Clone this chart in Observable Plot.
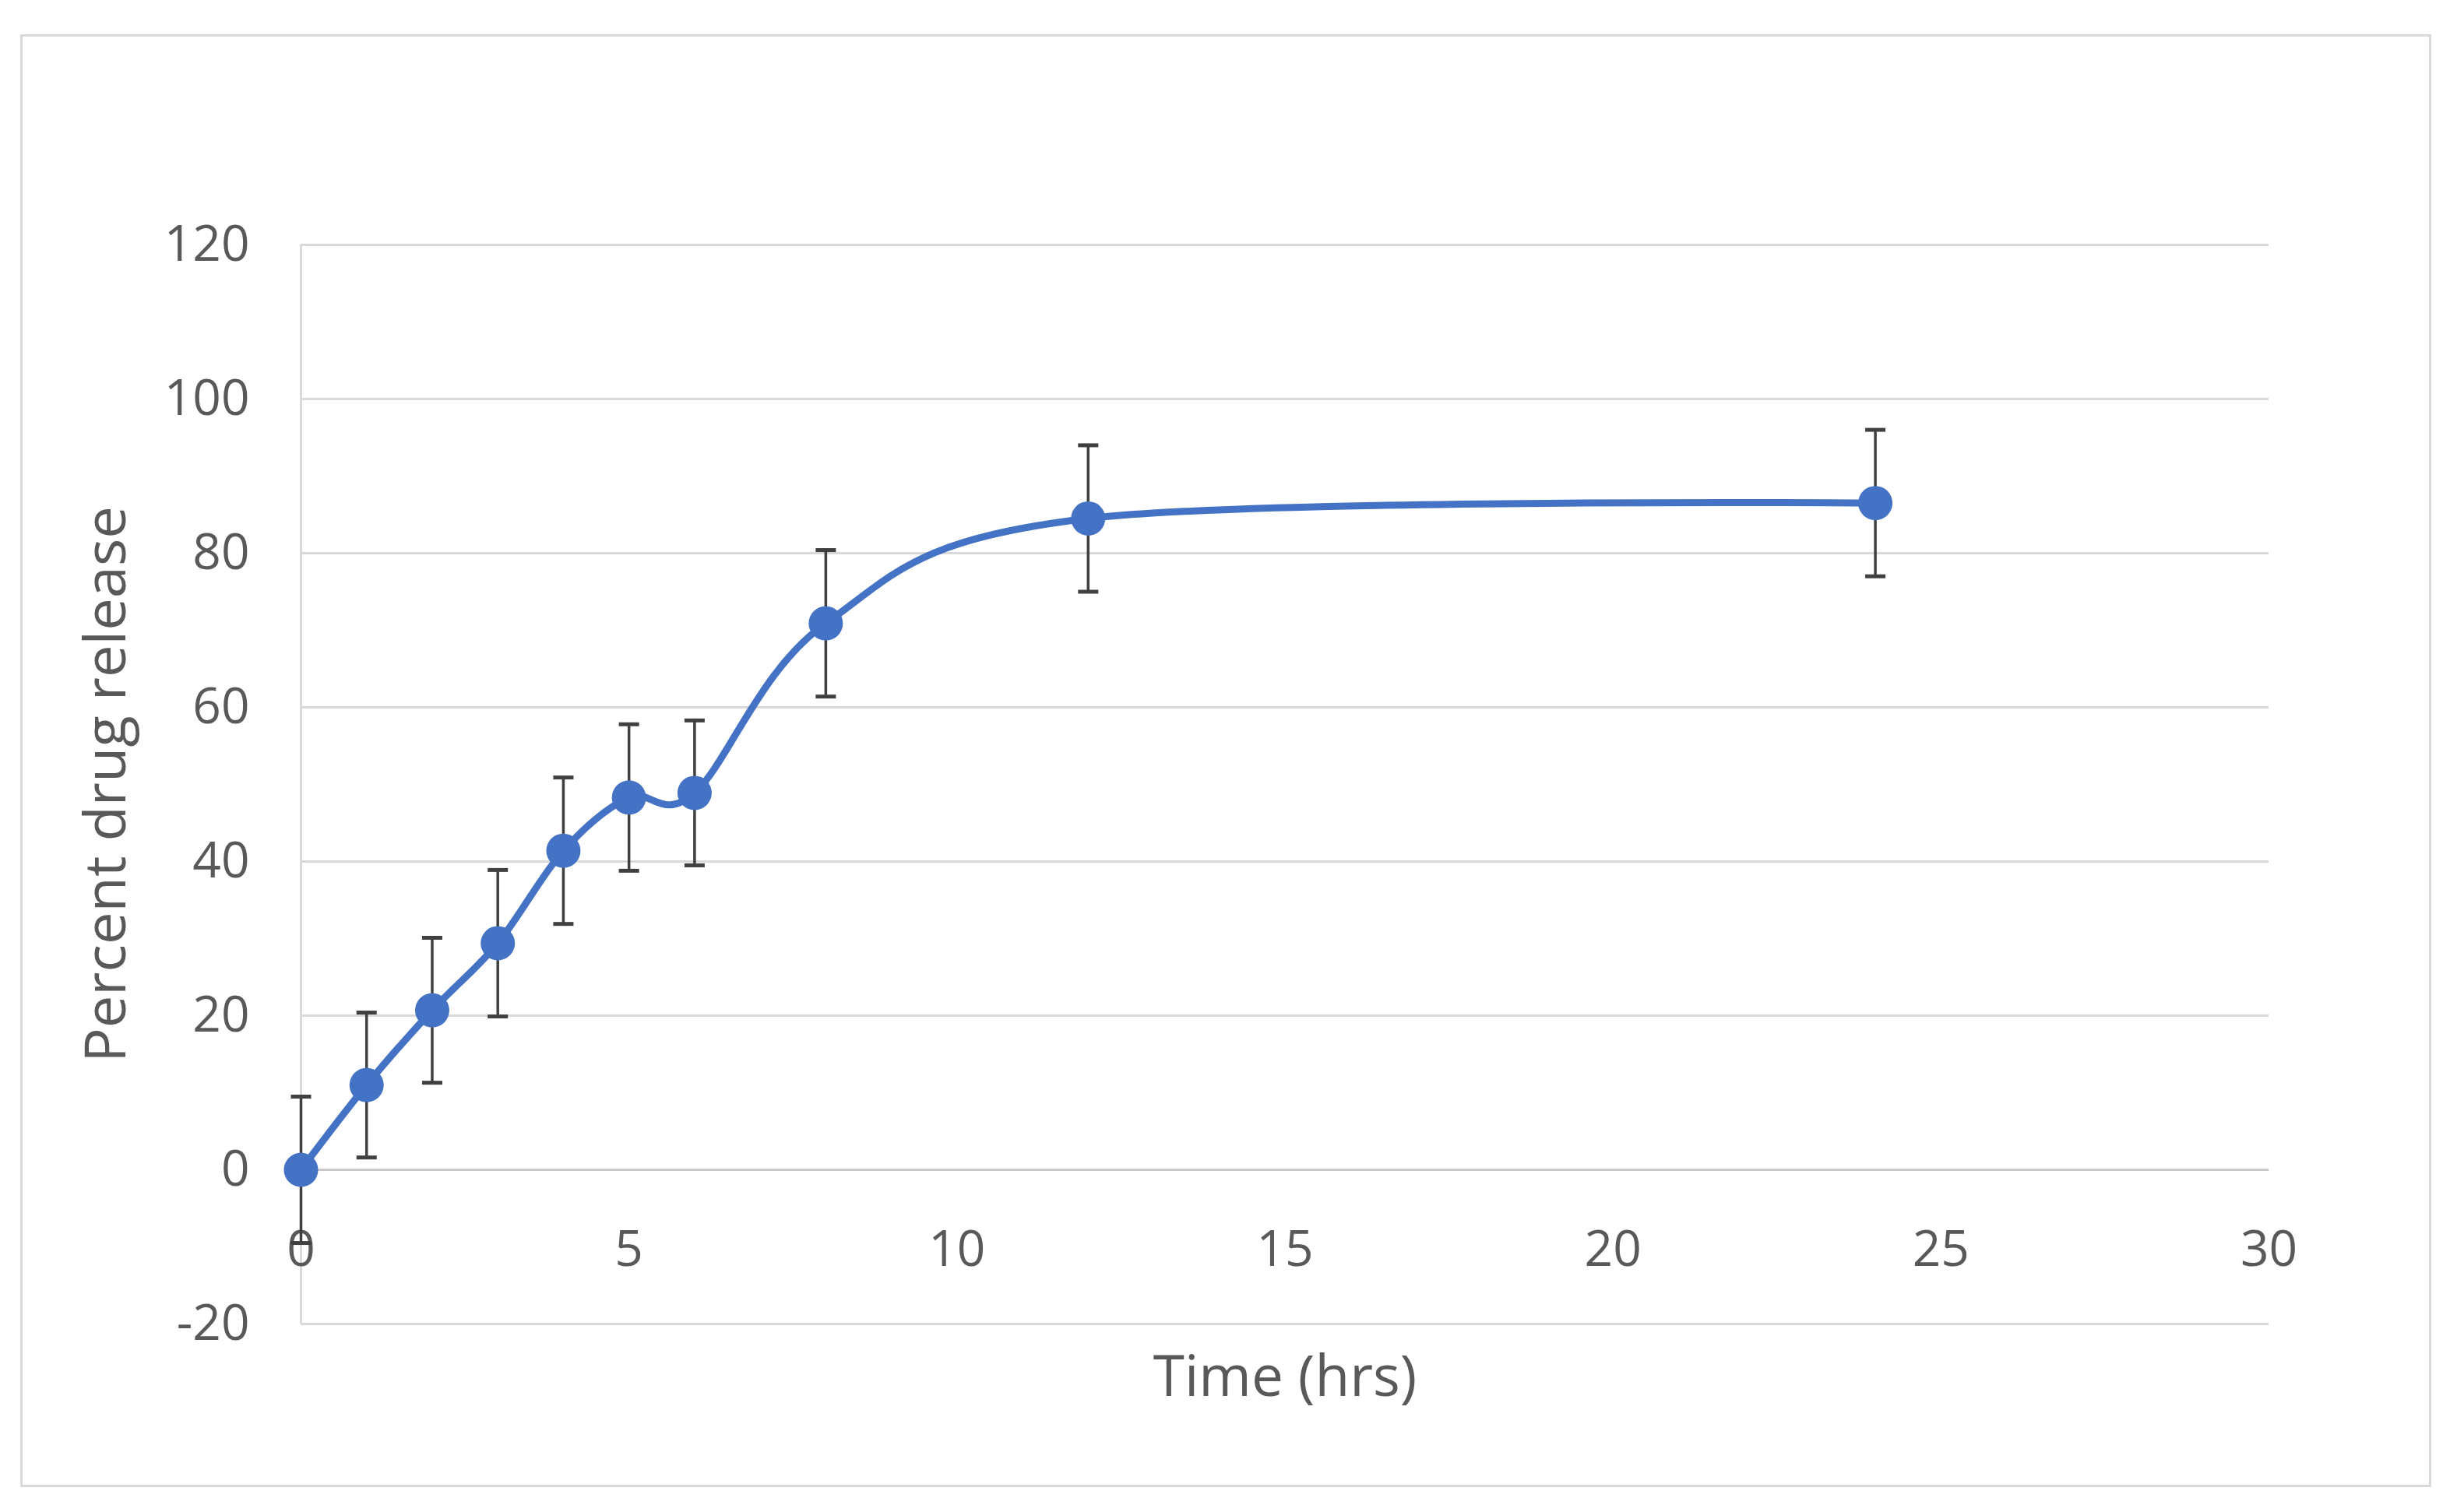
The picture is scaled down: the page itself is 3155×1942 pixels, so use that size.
<!DOCTYPE html>
<html>
<head>
<meta charset="utf-8">
<script src="https://cdn.jsdelivr.net/npm/d3@7"></script>
<script src="https://cdn.jsdelivr.net/npm/@observablehq/plot@0.6"></script>
<style>
  html, body { margin: 0; padding: 0; background: #ffffff; }
  #wrap { position: relative; width: 3155px; height: 1942px; overflow: hidden; }
  #border { position: absolute; left: 26px; top: 44px; width: 3090px; height: 1860px; border: 3px solid #d9d9d9; }
  #chart { position: absolute; left: 0; top: 0; }
</style>
</head>
<body>
<div id="wrap"><div id="border"></div><div id="chart"></div></div>
<script>
// Data
const times    = [0, 1, 2, 3, 4, 5, 6, 8, 12, 24];
const release  = [0, 11.0, 20.7, 29.4, 41.4, 48.3, 48.9, 70.9, 84.5, 86.5];
const errors   = [9.5, 9.4, 9.4, 9.5, 9.5, 9.5, 9.4, 9.5, 9.5, 9.5];
const xTicks   = [0, 5, 10, 15, 20, 25, 30];
const yTicks   = [-20, 0, 20, 40, 60, 80, 100, 120];
const xTitle   = "Time (hrs)";
const yTitle   = "Percent drug release";

const data = times.map((t, i) => ({t, y: release[i], e: errors[i]}));

const capSymbol = {
  draw(ctx, size) {
    const r = Math.sqrt(size / Math.PI);
    ctx.moveTo(-r, 0);
    ctx.lineTo(r, 0);
  }
};

const blue = "#4472C4";
const grey = "#404040";
const font = "'Open Sans', 'Liberation Sans', sans-serif";

const chart = Plot.plot({
  width: 3155,
  height: 1942,
  marginLeft: 386,
  marginRight: 242,
  marginTop: 314,
  marginBottom: 242,
  style: {fontFamily: font, fontSize: "63px", color: "#595959", background: "transparent"},
  x: {domain: [0, 30], axis: null},
  y: {domain: [-20, 120], axis: null},
  marks: [
    Plot.gridY(yTicks, {stroke: "#d9d9d9", strokeOpacity: 1, strokeWidth: 3}),
    Plot.ruleY([0], {stroke: "#c8c8c8", strokeWidth: 3}),
    Plot.ruleX([0], {stroke: "#d9d9d9", strokeWidth: 3}),
    Plot.axisY(yTicks, {tickSize: 0, tickPadding: 66, fontSize: 64, fill: "#595959", label: null, tickFormat: d => String(d)}),
    Plot.text(xTicks, {x: d => d, y: 0, dy: 103, text: d => String(d), fontSize: 64, fill: "#595959"}),
    Plot.text([xTitle], {frameAnchor: "bottom", dy: 92, text: d => d, fontSize: 73, fill: "#595959"}),
    Plot.text([yTitle], {frameAnchor: "left", dx: -249, rotate: -90, textAnchor: "middle", text: d => d, fontSize: 74, fill: "#595959"}),
    Plot.ruleX(data, {x: "t", y1: d => d.y - d.e, y2: d => d.y + d.e, stroke: grey, strokeWidth: 3.5}),
    Plot.dot(data, {x: "t", y: d => d.y + d.e, symbol: capSymbol, r: 13, stroke: grey, strokeWidth: 5}),
    Plot.dot(data, {x: "t", y: d => d.y - d.e, symbol: capSymbol, r: 13, stroke: grey, strokeWidth: 5}),
    Plot.line(data, {x: "t", y: "y", curve: "cardinal", stroke: blue, strokeWidth: 9}),
    Plot.dot(data, {x: "t", y: "y", r: 22, fill: blue, stroke: "none"})
  ]
});
document.getElementById("chart").appendChild(chart);
</script>
</body>
</html>
